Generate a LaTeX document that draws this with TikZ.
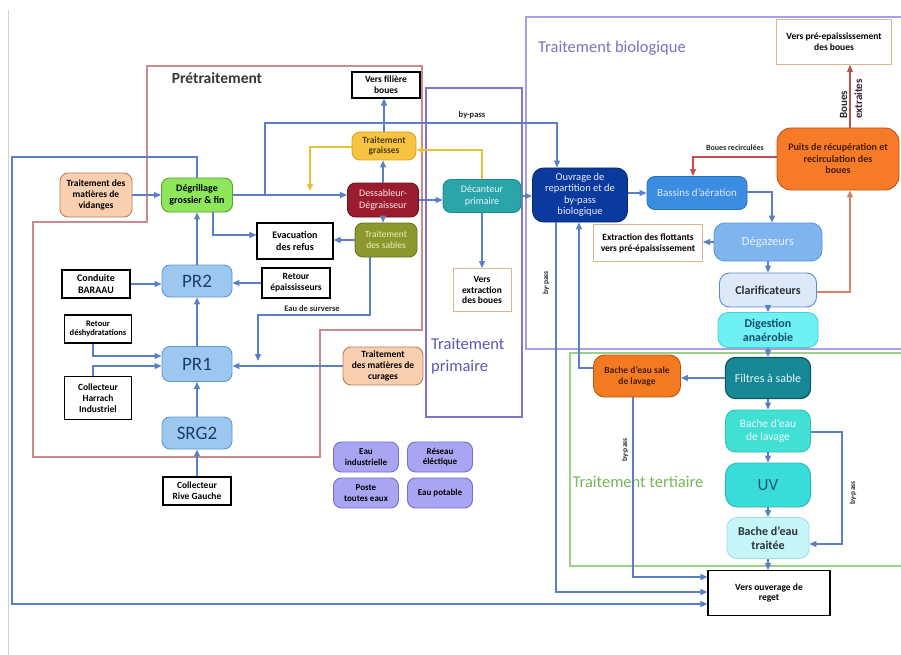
\documentclass[tikz,border=0pt]{standalone}
\usepackage{fontspec}
\setmainfont{Carlito}
\usetikzlibrary{arrows.meta,calc}
\definecolor{lineblue}{HTML}{5B7FC6}
\definecolor{lineyel}{HTML}{E6C23A}
\definecolor{linered}{HTML}{C0504D}
\definecolor{linered2}{HTML}{D8826C}
\definecolor{prebord}{HTML}{C98B8B}
\definecolor{primbord}{HTML}{7F76CC}
\definecolor{biobord}{HTML}{A79EE6}
\definecolor{terbord}{HTML}{9AD08A}
\definecolor{tanbord}{HTML}{D8B890}
\tikzset{
  sz/.style 2 args={minimum width=#1pt, minimum height=#2pt},
  fs/.style={font=\fontsize{#1}{\fpeval{#1*1.15}}\selectfont},
  fb/.style={font=\fontsize{#1}{\fpeval{#1*1.15}}\selectfont\bfseries},
  rbox/.style={rounded corners=8pt, draw, line width=0.9pt, inner sep=1pt, align=center},
  wbox/.style={draw=black, line width=1.1pt, fill=white, inner sep=1pt, align=center},
  tbox/.style={draw=tanbord, line width=1pt, fill=white, inner sep=1pt, align=center},
  peach/.style={rbox, fill={rgb,255:red,249;green,207;blue,176}, draw={rgb,255:red,176;green,128;blue,96}},
  prbox/.style={rbox, fill={rgb,255:red,156;green,200;blue,240}, draw={rgb,255:red,95;green,149;blue,208}, text={rgb,255:red,30;green,60;blue,110}},
  util/.style={rbox, fill={rgb,255:red,169;green,165;blue,242}, draw={rgb,255:red,116;green,112;blue,208}},
  arr/.style={-{Triangle[length=7pt,width=6pt]}},
  bl/.style={draw=lineblue, line width=1.1pt},
  yl/.style={draw=lineyel, line width=1.1pt},
  rd/.style={draw=linered, line width=1.1pt},
  rd2/.style={draw=linered2, line width=1.1pt},
  lbl/.style={inner sep=0pt, text={rgb,255:red,40;green,40;blue,40}},
}
\begin{document}
\begin{tikzpicture}[x=1pt,y=-1pt]
\useasboundingbox (0,0) rectangle (901,655);
\fill[white] (0,0) rectangle (901,655);
\draw[gray!35, line width=0.8pt] (8,10) -- (8,655);

% regions
\draw[prebord, line width=1.4pt] (147,66) -- (422,66) -- (422,330) -- (320,330) -- (320,457) -- (33,457) -- (33,222) -- (147,222) -- cycle;
\draw[primbord, line width=1.5pt] (426,88) rectangle (522,417);
\draw[biobord, line width=1.4pt] (901,17) -- (526,17) -- (526,349) -- (901,349);
\draw[terbord, line width=1.4pt] (901,353) -- (570,353) -- (570,566) -- (901,566);

\node[inner sep=0pt, fb=15.5, text={rgb,255:red,55;green,55;blue,55}] (tpre) at (217,78) {Prétraitement};
\node[inner sep=0pt, fs=16.5, text={rgb,255:red,124;green,112;blue,192}] (tbio) at (612,48) {Traitement biologique};
\node[inner sep=0pt, anchor=west, align=left, font=\fontsize{16.5}{22}\selectfont, text={rgb,255:red,90;green,85;blue,184}] (tprim) at (431,356) {Traitement\\primaire};
\node[inner sep=0pt, fs=16.5, text={rgb,255:red,116;green,184;blue,90}] (tter) at (638,482) {Traitement tertiaire};

% nodes
\node[peach, sz={72}{44}, fb=9.5] (vid) at (96,195) {Traitement des\\matières de\\vidanges};
\node[rbox, sz={71}{34}, fb=10, fill={rgb,255:red,142;green,230;blue,90}, draw={rgb,255:red,90;green,160;blue,48}] (dg) at (197,195) {Dégrillage\\grossier \& fin};
\node[wbox, sz={76}{36}, fb=10] (evac) at (295,241) {Evacuation\\des refus};
\node[prbox, sz={70}{32}, fs=19] (pr2) at (197,281) {PR2};
\node[wbox, sz={68}{28}, fb=10] (bar) at (96,284) {Conduite\\BARAAU};
\node[wbox, sz={68}{30}, fb=9.5] (repa) at (296,283) {Retour\\épaississeurs};
\node[prbox, sz={70}{35}, fs=19] (pr1) at (197,364) {PR1};
\node[wbox, sz={67}{28}, fb=8.5] (desh) at (98,329) {Retour\\déshydratations};
\node[wbox, sz={67}{43}, fb=9.5] (harr) at (98,398) {Collecteur\\Harrach\\Industriel};
\node[peach, sz={80}{38}, fb=9.5] (cur) at (383,366) {Traitement\\des matières de\\curages};
\node[prbox, sz={70}{32}, fs=19] (srg) at (197,433) {SRG2};
\node[wbox, sz={68}{28}, fb=9.5] (rg) at (197,491) {Collecteur\\Rive Gauche};
\node[rbox, sz={64}{28}, fb=9.5, fill={rgb,255:red,246;green,195;blue,67}, draw={rgb,255:red,217;green,165;blue,32}, text={rgb,255:red,80;green,60;blue,20}] (grs) at (384,146) {Traitement\\graisses};
\node[wbox, sz={68}{26}, fb=9.5] (vfb) at (386,85) {Vers filière\\boues};
\node[rbox, sz={71}{34}, fs=10, fill={rgb,255:red,155;green,28;blue,46}, draw={rgb,255:red,109;green,16;blue,32}, text=white!90!red] (des) at (383,200) {Dessableur-\\Dégraisseur};
\node[rbox, sz={62}{34}, fs=9.5, fill={rgb,255:red,138;green,152;blue,46}, draw={rgb,255:red,100;green,115;blue,30}, text={rgb,255:red,235;green,240;blue,190}] (sab) at (386,240) {Traitement\\des sables};
\node[rbox, sz={78}{33}, fs=10, fill={rgb,255:red,42;green,165;blue,168}, draw={rgb,255:red,26;green,138;blue,140}, text=white!90!cyan] (dec) at (482,196) {Décanteur\\primaire};
\node[tbox, sz={58}{43}, fb=9.5] (vext) at (482,290) {Vers\\extraction\\des boues};
\node[rbox, sz={95}{54}, rounded corners=11pt, font=\fontsize{10.5}{11.5}\selectfont, fill={rgb,255:red,11;green,58;blue,158}, draw={rgb,255:red,8;green,42;blue,112}, text=white!92!blue] (ouv) at (580,195) {Ouvrage de\\repartition et de\\by-pass\\biologique};
\node[rbox, sz={100}{33}, fs=11, fill={rgb,255:red,58;green,141;blue,224}, draw={rgb,255:red,42;green,112;blue,192}, text=white!90!blue] (bas) at (697,193) {Bassins d'aération};
\node[rbox, sz={108}{38}, rounded corners=11pt, fs=12.5, fill={rgb,255:red,126;green,181;blue,238}, draw={rgb,255:red,90;green,149;blue,216}, text=white!92!blue] (deg) at (768,242) {Dégazeurs};
\node[tbox, sz={109}{37}, fb=9.5] (flot) at (648,243) {Extraction des flottants\\vers pré-épaississement};
\node[rbox, sz={122}{62}, rounded corners=14pt, fb=10, fill={rgb,255:red,247;green,122;blue,40}, draw={rgb,255:red,192;green,85;blue,16}, text={rgb,255:red,70;green,30;blue,10}] (puits) at (838,159) {Puits de récupération et\\recirculation des\\boues};
\node[tbox, sz={115}{45}, fb=9.5] (vpe) at (834,42) {Vers pré-epaississement\\des boues};
\node[rbox, sz={97}{34}, rounded corners=10pt, fb=12, fill={rgb,255:red,221;green,233;blue,247}, draw={rgb,255:red,90;green,138;blue,208}, text={rgb,255:red,40;green,50;blue,60}] (clar) at (768,290) {Clarificateurs};
\node[rbox, sz={100}{35}, rounded corners=10pt, fb=12, fill={rgb,255:red,111;green,240;blue,243}, draw={rgb,255:red,74;green,208;blue,216}, text={rgb,255:red,20;green,80;blue,106}] (dig) at (768,330) {Digestion\\anaérobie};
\node[rbox, sz={85}{41}, rounded corners=10pt, fs=12, line width=1.3pt, fill={rgb,255:red,23;green,136;blue,149}, draw={rgb,255:red,12;green,90;blue,100}, text=white!90!cyan] (fil) at (768,378) {Filtres à sable};
\node[rbox, sz={87}{42}, rounded corners=11pt, fb=9.5, fill={rgb,255:red,244;green,122;blue,34}, draw={rgb,255:red,192;green,85;blue,16}, text={rgb,255:red,70;green,30;blue,10}] (bsale) at (637,376) {Bache d'eau sale\\de lavage};
\node[rbox, sz={85}{42}, rounded corners=10pt, fs=11.5, fill={rgb,255:red,66;green,224;blue,212}, draw={rgb,255:red,48;green,192;blue,184}, text=white!92!cyan] (blav) at (768,431) {Bache d'eau\\de lavage};
\node[rbox, sz={85}{44}, rounded corners=12pt, fs=17, fill={rgb,255:red,56;green,220;blue,216}, draw={rgb,255:red,40;green,184;blue,184}, text={rgb,255:red,26;green,90;blue,112}] (uv) at (768,485) {UV};
\node[rbox, sz={82}{41}, rounded corners=10pt, fb=12, fill={rgb,255:red,198;green,246;blue,248}, draw={rgb,255:red,157;green,224;blue,232}, text={rgb,255:red,40;green,50;blue,60}] (btr) at (768,538) {Bache d'eau\\traitée};
\node[wbox, sz={122}{45}, fb=9.5] (reget) at (769,593) {Vers ouverage de\\reget};
\node[util, sz={65}{30}, fb=9] (u1) at (366,457) {Eau\\industrielle};
\node[util, sz={65}{30}, fb=9] (u2) at (440,457) {Réseau\\éléctique};
\node[util, sz={65}{30}, fb=9] (u3) at (366,493) {Poste\\toutes eaux};
\node[util, sz={65}{30}, fb=9] (u4) at (440,493) {Eau potable};

% waypoints
\coordinate (L1) at (12,157);
\coordinate (L2) at (12,604);
\coordinate (x213) at (213,235);
\coordinate (d1) at (93,356);
\coordinate (h1) at (93,366);
\coordinate (s1) at (370,315);
\coordinate (s2) at (258,315);
\coordinate (s3) at (258,361);
\coordinate (b1) at (265,195);
\coordinate (b2) at (265,123);
\coordinate (b3) at (557,123);
\coordinate (y1) at (310,147);
\coordinate (y2) at (310,191);
\coordinate (y3) at (482,150);
\coordinate (g1) at (772,192);
\coordinate (r1) at (693,157);
\coordinate (rx) at (850,292);
\coordinate (q1) at (579,368);
\coordinate (p1) at (556,592);
\coordinate (p2) at (633,577);
\coordinate (k1) at (842,432);
\coordinate (k2) at (842,544);

% connectors
\draw[bl,arr] (dg.north) |- (L1) -- (L2) -- (L2 -| reget.west);
\draw[bl,arr] (vid) -- (dg);
\draw[bl,arr] (x213 |- dg.south) -- (x213) -- (x213 -| evac.west);
\draw[bl,arr] (sab.west) -- (sab.west -| evac.east);
\draw[bl,arr] (bar.east) -- (bar.east -| pr2.west);
\draw[bl,arr] (repa.west) -- (repa.west -| pr2.east);
\draw[bl,arr] (pr2) -- (dg);
\draw[bl,arr] (pr1) -- (pr2);
\draw[bl,arr] (srg) -- (pr1);
\draw[bl,arr] (rg) -- (srg);
\draw[bl,arr] (d1 |- desh.south) -- (d1) -- (d1 -| pr1.west);
\draw[bl,arr] (h1 |- harr.north) -- (h1) -- (h1 -| pr1.west);
\draw[bl,arr] (cur.west) -- (cur.west -| pr1.east);
\draw[bl,arr] (s1 |- sab.south) -- (s1) -- (s2) -- (s3);
\node[lbl, fb=8.5] (lsurv) at (312,309) {Eau de surverse};
\draw[bl,arr] (grs.north) -- (grs.north |- vfb.south);
\draw[bl,arr] (des.north) -- (des.north |- grs.south);
\draw[bl,arr] (des.south) -- (des.south |- sab.north);
\draw[bl,arr] (dg.east) -- (dg.east -| des.west);
\draw[bl,arr] (b1) -- (b2) -- (b3) -- (b3 |- ouv.north);
\node[lbl, fb=8.5] (lbp1) at (472,115) {by-pass};
\draw[yl,arr] (grs.west |- y1) -- (y1) -- (y2);
\draw[yl,arr] (y3 |- dec.north) -- (y3) -- (y3 -| grs.east);
\draw[bl,arr] (des.east) -- (des.east -| dec.west);
\draw[bl,arr] (dec.south) -- (dec.south |- vext.north);
\draw[bl,arr] (dec.east) -- (dec.east -| ouv.west);
\draw[bl,arr] (ouv.east |- bas.west) -- (bas.west);
\draw[bl,arr] (bas.east |- g1) -- (g1) -- (g1 |- deg.north);
\draw[bl,arr] (deg.west) -- (deg.west -| flot.east);
\draw[rd,arr] (puits.west |- r1) -- (r1) -- (r1 |- bas.north);
\node[lbl, fb=8] (lrec) at (735,148) {Boues recirculées};
\draw[rd2,arr] (clar.east |- rx) -- (rx) -- (rx |- puits.south);
\draw[rd,arr] (rx |- puits.north) -- (rx |- vpe.south);
\node[lbl, rotate=90, align=left, font=\fontsize{11}{15}\selectfont\bfseries] (lext) at (851,99) {Boues\\extraites};
\draw[bl,arr] (deg.south) -- (deg.south |- clar.north);
\draw[bl,arr] (clar.south) -- (clar.south |- dig.north);
\draw[bl,arr] (dig.south) -- (dig.south |- fil.north);
\draw[bl,arr] (fil.south) -- (fil.south |- blav.north);
\draw[bl,arr] (blav.south) -- (blav.south |- uv.north);
\draw[bl,arr] (uv.south) -- (uv.south |- btr.north);
\draw[bl,arr] (btr.south) -- (btr.south |- reget.north);
\draw[bl,arr] (fil.west) -- (fil.west -| bsale.east);
\draw[bl,arr] (bsale.west |- q1) -- (q1) -- (q1 |- ouv.south);
\draw[bl,arr] (p1 |- ouv.south) -- (p1) -- (p1 -| reget.west);
\node[lbl, fb=7.5, rotate=90] (lbp2) at (546,283) {by-pass};
\draw[bl,arr] (p2 |- bsale.south) -- (p2) -- (p2 -| reget.west);
\node[lbl, fb=7.5, rotate=90] (lbp3) at (625,450) {by-pass};
\draw[bl,arr] (blav.east |- k1) -- (k1) -- (k2) -- (k2 -| btr.east);
\node[lbl, fb=7.5, rotate=90] (lbp4) at (853,493) {by-pass};
\end{tikzpicture}
\end{document}
